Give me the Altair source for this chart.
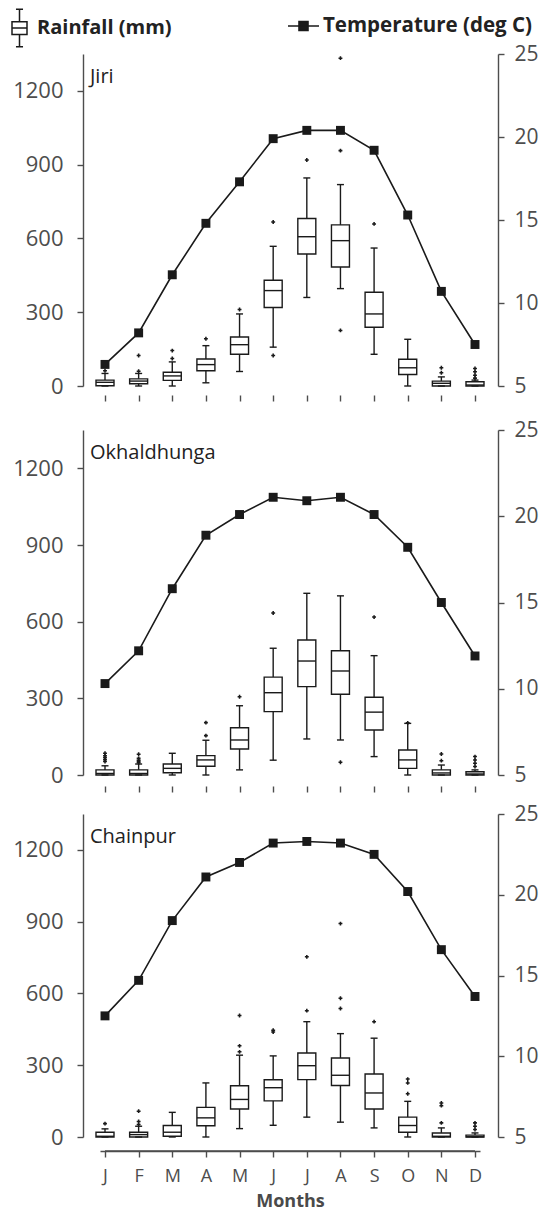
import altair as alt
import pandas as pd

MONTHS = ["Jan", "Feb", "Mar", "Apr", "May", "Jun", "Jul", "Aug", "Sep", "Oct", "Nov", "Dec"]
MONTH_NUM = list(range(1, 13))
STATIONS = ["Jiri", "Okhaldhunga", "Chainpur"]
LEGEND_LABELS = ["Rainfall (mm)", "Temperature (deg C)"]
RAIN_TICKS = [0, 300, 600, 900, 1200]
TEMP_TICKS = [5, 10, 15, 20, 25]

# Jiri
JIRI_LO = [0, 0, 0, 13, 59, 158, 360, 396, 129, 0, 0, 0]
JIRI_Q1 = [1, 9, 23, 62, 129, 319, 537, 484, 239, 47, 0, 0]
JIRI_MED = [15, 20, 41, 87, 168, 388, 607, 591, 293, 74, 11, 4]
JIRI_Q3 = [24, 29, 56, 110, 199, 430, 681, 655, 381, 109, 20, 17]
JIRI_HI = [51, 51, 98, 164, 293, 568, 846, 819, 561, 190, 37, 24]
JIRI_OUT = [[62], [60, 124], [112, 144], [192], [311], [124, 667], [919],
            [226, 957, 1333], [659], [], [54, 74], [32, 44, 58, 71]]
JIRI_TEMP = [6.3, 8.2, 11.7, 14.8, 17.3, 19.9, 20.4, 20.4, 19.2, 15.3, 10.7, 7.5]

# Okhaldhunga
OKH_LO = [0, 0, 0, 0, 20, 58, 141, 137, 72, 0, 0, 0]
OKH_Q1 = [0, 0, 9, 34, 102, 248, 346, 316, 176, 26, 0, 0]
OKH_MED = [6, 6, 26, 59, 137, 322, 446, 407, 246, 59, 8, 4]
OKH_Q3 = [20, 20, 43, 76, 185, 383, 528, 486, 304, 98, 20, 13]
OKH_HI = [36, 43, 85, 136, 271, 496, 711, 701, 467, 202, 39, 20]
OKH_OUT = [[53, 60, 68, 75, 85], [48, 53, 58, 65, 81], [], [154, 205], [306], [634], [],
           [50], [618], [204], [56, 82], [33, 46, 59, 72]]
OKH_TEMP = [10.3, 12.2, 15.8, 18.9, 20.1, 21.1, 20.9, 21.1, 20.1, 18.2, 15.0, 11.9]

# Chainpur
CHA_LO = [0, 0, 0, 0, 35, 49, 83, 62, 38, 0, 0, 0]
CHA_Q1 = [0, 0, 3, 47, 117, 151, 240, 215, 117, 20, 0, 0]
CHA_MED = [3, 10, 20, 80, 157, 206, 298, 258, 184, 48, 3, 1]
CHA_Q3 = [20, 20, 48, 124, 214, 239, 351, 330, 263, 83, 17, 8]
CHA_HI = [34, 45, 103, 226, 342, 339, 482, 432, 413, 149, 38, 17]
CHA_OUT = [[56], [52, 65, 108], [], [], [356, 381, 508], [439, 446], [528, 753],
           [537, 580, 892], [482], [181, 226, 242], [59, 131, 142], [31, 45, 59]]
CHA_TEMP = [12.5, 14.7, 18.4, 21.1, 22.0, 23.2, 23.3, 23.2, 22.5, 20.2, 16.6, 13.7]

INK = "#1a1a1a"
AXC = "#4d4d4d"
FONT = "Open Sans"
W = 380          # distance from first to last month
SW = 1.4
RAIN_MAX = 1350

# box-plot icon: 15 px wide (unit = 7.5 px), 38 px tall
BOX_PATH = ("M-0.47,-2.5H0.47M0,-2.5V-0.85M-1,-0.85H1V0.85H-1ZM-1,0H1"
            "M0,0.85V2.5M-0.47,2.5H0.47")
LINE_SQ_PATH = "M-1,0H1M-0.29,-0.29H0.29V0.29H-0.29Z"

LETTERS = "[" + ",".join("'%s'" % m[0] for m in MONTHS) + "]"


def panel(name, lo, q1, med, q3, hi, out, temp, height, xoff, last=False, first=False):
    box_df = pd.DataFrame({"m": MONTH_NUM, "lo": lo, "q1": q1, "med": med,
                           "q3": q3, "hi": hi, "lg": LEGEND_LABELS[0]})
    out_df = pd.DataFrame([{"m": m, "rain": v} for m, vs in zip(MONTH_NUM, out) for v in vs])
    t_df = pd.DataFrame({"m": MONTH_NUM, "temp": temp, "lg": LEGEND_LABELS[1]})

    if last:
        xaxis = alt.Axis(title="Months", labels=True, domain=True, ticks=True, tickSize=6,
                         offset=xoff, values=MONTH_NUM,
                         labelExpr=LETTERS + "[datum.value - 1]", labelAngle=0,
                         labelPadding=10, labelFontSize=18, titleFontSize=18,
                         titleFontWeight="bold", titlePadding=7, titleColor="#4a4a4a")
    else:
        xaxis = alt.Axis(title=None, labels=False, domain=False, ticks=True, tickSize=6,
                         offset=xoff, values=MONTH_NUM)
    xscale = alt.Scale(domain=[1, 12], nice=False, zero=False)

    def X(field="m"):
        return alt.X(f"{field}:Q", scale=xscale, axis=xaxis, title="Months" if last else None)

    rscale = alt.Scale(domain=[0, RAIN_MAX], nice=False, zero=True)
    raxis = alt.Axis(orient="left", values=RAIN_TICKS, title=None, tickSize=6, labelPadding=14,
                     format="d", offset=17)

    def Yr(field):
        return alt.Y(f"{field}:Q", scale=rscale, axis=raxis, title=None)

    base = alt.Chart(box_df)
    lo_enc = dict(x=X(), y=Yr("lo"), y2="q1")
    if first:
        lo_enc["opacity"] = alt.Opacity(
            "lg:N", scale=alt.Scale(domain=[LEGEND_LABELS[0]], range=[1]),
            legend=alt.Legend(title=None, orient="none", legendX=-90.5, legendY=-36,
                              symbolType=BOX_PATH, symbolSize=225, symbolFillColor="white",
                              symbolStrokeColor=INK, symbolStrokeWidth=1.5, symbolOpacity=1,
                              labelFont=FONT, labelFontSize=20, labelFontWeight="bold",
                              labelColor="#222222", labelOffset=7.5, labelLimit=400,
                              padding=0))
    whisk_lo = base.mark_rule(color=INK, strokeWidth=SW).encode(**lo_enc)
    whisk_hi = base.mark_rule(color=INK, strokeWidth=SW).encode(x=X(), y=Yr("q3"), y2="hi")
    box = base.mark_bar(width=18, fill="white", stroke=INK, strokeWidth=SW).encode(
        x=X(), y=Yr("q1"), y2="q3")
    medt = base.mark_tick(orient="horizontal", size=18, thickness=SW, color=INK,
                          opacity=1).encode(x=X(), y=Yr("med"))
    cap_lo = base.mark_tick(orient="horizontal", size=7, thickness=SW, color=INK,
                            opacity=1).encode(x=X(), y=Yr("lo"))
    cap_hi = base.mark_tick(orient="horizontal", size=7, thickness=SW, color=INK,
                            opacity=1).encode(x=X(), y=Yr("hi"))
    outl = alt.Chart(out_df).mark_point(shape="cross", filled=True, size=15, color=INK,
                                        opacity=1).encode(x=X(), y=Yr("rain"))
    label = alt.Chart(pd.DataFrame({"name": [name]})).mark_text(
        align="left", baseline="middle", font=FONT, fontSize=20, color="#222222"
    ).encode(text="name:N", x=alt.value(-10), y=alt.value(23))

    rain_layers = [whisk_lo, whisk_hi, box, medt, cap_lo, cap_hi, outl, label]
    if last:
        # x-axis baseline from the first to the last month, drawn xoff px below the plot
        below = -xoff * RAIN_MAX / height
        dom = alt.Chart(pd.DataFrame({"a": [MONTH_NUM[0]], "b": [MONTH_NUM[-1]]})).mark_rule(
            color=AXC, strokeWidth=SW).encode(x=X("a"), x2="b", y=alt.datum(below))
        rain_layers.append(dom)
    rain = alt.layer(*rain_layers)

    tscale = alt.Scale(domain=[5, 25], nice=False, zero=False)
    taxis = alt.Axis(orient="right", values=TEMP_TICKS, title=None, tickSize=6, labelPadding=10,
                     labelFontSize=21, offset=18)
    Yt = alt.Y("temp:Q", scale=tscale, axis=taxis, title=None)
    tbase = alt.Chart(t_df)
    tline = tbase.mark_line(color=INK, strokeWidth=1.6).encode(x=X(), y=Yt)
    pt_enc = dict(x=X(), y=Yt)
    if first:
        pt_enc["color"] = alt.Color(
            "lg:N", scale=alt.Scale(domain=[LEGEND_LABELS[1]], range=[INK]),
            legend=alt.Legend(title=None, orient="none", legendX=187, legendY=-44.5,
                              symbolType=LINE_SQ_PATH, symbolSize=961, symbolFillColor=INK,
                              symbolStrokeColor=INK, symbolStrokeWidth=1.6, symbolOpacity=1,
                              labelFont=FONT, labelFontSize=20.5, labelFontWeight="bold",
                              labelColor="#222222", labelOffset=3, labelLimit=400, padding=0))
        tpts = tbase.mark_point(shape="square", filled=True, size=80, opacity=1).encode(**pt_enc)
    else:
        tpts = tbase.mark_point(shape="square", filled=True, size=80, opacity=1,
                                color=INK).encode(**pt_enc)
    tlayer = alt.layer(tline, tpts)

    return alt.layer(rain, tlayer).resolve_scale(y="independent").properties(
        width=W, height=height)


p1 = panel(STATIONS[0], JIRI_LO, JIRI_Q1, JIRI_MED, JIRI_Q3, JIRI_HI, JIRI_OUT, JIRI_TEMP,
           332, 9, first=True)
p2 = panel(STATIONS[1], OKH_LO, OKH_Q1, OKH_MED, OKH_Q3, OKH_HI, OKH_OUT, OKH_TEMP, 345, 11)
p3 = panel(STATIONS[2], CHA_LO, CHA_Q1, CHA_MED, CHA_Q3, CHA_HI, CHA_OUT, CHA_TEMP, 323, 14,
           last=True)

lower = alt.vconcat(p2, p3, spacing=39, bounds="flush")
chart = alt.vconcat(p1, lower, spacing=44, bounds="flush").properties(
    padding={"left": 9, "top": 9, "right": 0, "bottom": 2}
).configure_view(stroke=None).configure_axis(
    labelFont=FONT, labelFontSize=22, labelColor="#4d4d4d", titleFont=FONT,
    domainColor=AXC, tickColor=AXC, domainWidth=SW, tickWidth=SW, grid=False
).configure_legend(padding=0)

chart.save("out.html", embed_options={"renderer": "svg", "actions": False})
